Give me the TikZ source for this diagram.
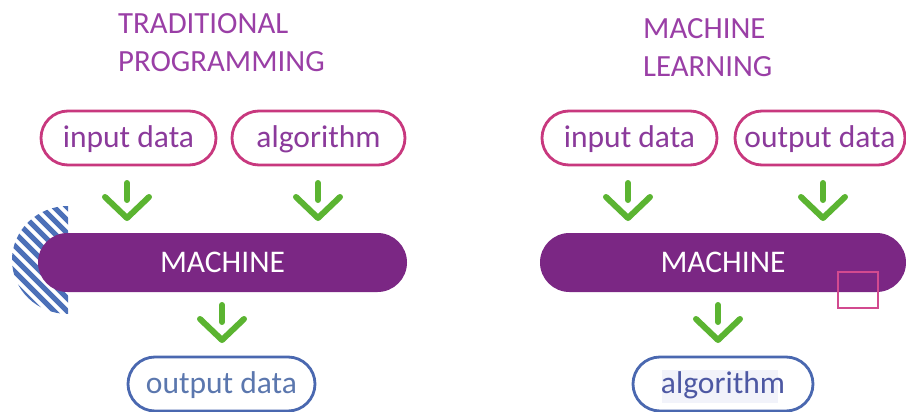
\documentclass[tikz,border=0pt]{standalone}
\usepackage{fontspec}
\setmainfont{Carlito}
\definecolor{titlepurple}{HTML}{9A3FA6}
\definecolor{pillmag}{HTML}{C8387E}
\definecolor{pilltxt}{HTML}{8B3A9B}
\definecolor{barpurple}{HTML}{7B2784}
\definecolor{arrowgreen}{HTML}{5BB431}
\definecolor{stripeblue}{HTML}{4C70B8}
\definecolor{pillblue}{HTML}{4A68B0}
\definecolor{outtxt}{HTML}{5B77AE}
\definecolor{algtxt}{HTML}{4D58A3}
\definecolor{pinksq}{HTML}{D24A8F}
\definecolor{textbg}{HTML}{F2F3FA}
\begin{document}
\begin{tikzpicture}[x=1pt,y=-1pt,
  bigfont/.style={font=\fontsize{31.5}{38}\selectfont},
  titletext/.style={font=\fontsize{30.8}{38}\selectfont, text=titlepurple, align=left, anchor=north west, inner sep=0pt},
  pillbase/.style={bigfont, line width=2.8pt, minimum height=54pt, inner sep=0pt, text height=23pt, text depth=4pt, fill=white},
  toppill/.style={pillbase, draw=pillmag, text=pilltxt, rounded corners=27pt},
  botpill/.style={pillbase, draw=pillblue, rounded corners=27pt},
  machinebar/.style={bigfont, fill=barpurple, text=white, minimum height=59pt, rounded corners=29.5pt, inner sep=0pt, text height=20.3pt, text depth=0pt},
  garrowline/.style={draw=arrowgreen, line width=6pt, line cap=round, line join=round},
  garrow/.pic={\draw[garrowline] (0,0) -- (0,17); \draw[garrowline] (-22,14) -- (0,35) -- (22,14);},
  stripeline/.style={draw=stripeblue, line width=5.2pt},
  pinkbox/.style={draw=pinksq, line width=2.5pt}
]
\useasboundingbox (0,0) rectangle (906,412);

% titles
\node[titletext] (t1) at (118,13.5) {TRADITIONAL\\PROGRAMMING};
\node[titletext] (t2) at (643,18.5) {MACHINE\\LEARNING};

% striped half disc
\begin{scope}
  \clip (68,314) arc[start angle=90, end angle=270, x radius=56, y radius=54] -- cycle;
  \foreach \i in {-12,...,12} {
    \draw[stripeline] (68+\i*13-80,260-80) -- ++(160,160);
  }
\end{scope}

% left diagram
\node[toppill, minimum width=175pt] (in1) at (128.5,138) {input data};
\node[toppill, minimum width=173pt] (alg1) at (318.5,138) {algorithm};
\node[machinebar, minimum width=369pt] (m1) at (222.5,262.5) {MACHINE};
\node[botpill, minimum width=187pt, text=outtxt] (out1) at (221.5,384) {output data};
\pic at (127,183) {garrow};
\pic at (318,183) {garrow};
\pic at (222,305) {garrow};

% right diagram
\node[toppill, minimum width=175pt] (in2) at (629.5,138) {input data};
\node[toppill, minimum width=170pt] (out2) at (820,138) {output data};
\node[machinebar, minimum width=366pt] (m2) at (723,262.5) {MACHINE};
\node[botpill, minimum width=180pt] (alg2) at (723,384) {};
\fill[textbg] (662,370) rectangle (778,403);
\node[bigfont, text=algtxt, inner sep=0pt, text height=23pt, text depth=4pt] (alg2t) at (alg2.center) {algorithm};
\pic at (628,183) {garrow};
\pic at (823,183) {garrow};
\pic at (718,305) {garrow};

\draw[pinkbox] (838,272) rectangle (878,308);
\end{tikzpicture}
\end{document}
